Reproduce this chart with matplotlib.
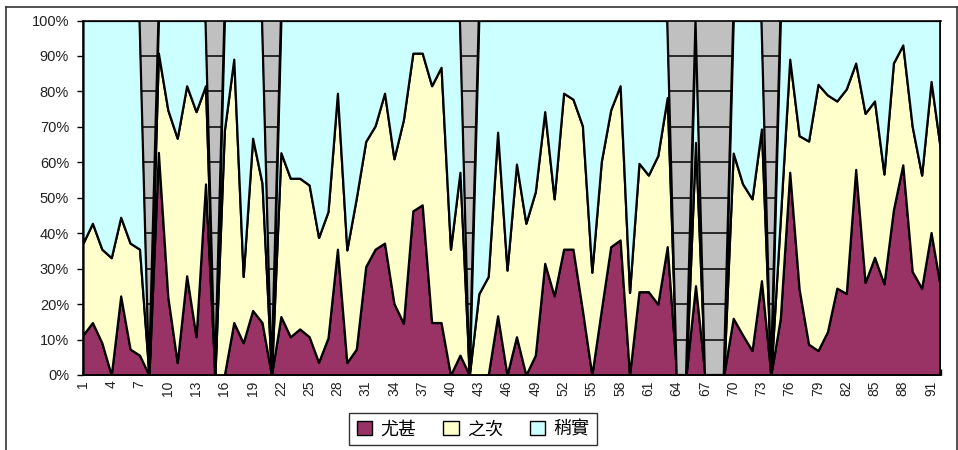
import matplotlib
matplotlib.use("Agg")
import matplotlib.pyplot as plt
from matplotlib.lines import Line2D
from matplotlib.patches import Patch
from matplotlib.ticker import FixedLocator, FuncFormatter
import numpy as np

# series values in percent, one entry per category 1..92 (all zero = no data)
you = [11.3, 14.8, 9.1, 0, 22.3, 7.3, 5.6, 0, 62.8, 22.1,
       3.5, 28.0, 10.8, 53.9, 0, 0, 14.8, 9.1, 18.2, 14.8,
       0, 16.5, 10.8, 13.0, 10.8, 3.6, 10.5, 35.5, 3.5, 7.3,
       30.6, 35.5, 37.2, 20.2, 14.6, 46.3, 48.0, 14.8, 14.8, 0,
       5.6, 0, 0, 0, 16.7, 0, 10.8, 0, 5.6, 31.5,
       22.3, 35.5, 35.5, 18.3, 0, 18.3, 36.2, 38.1, 0, 23.5,
       23.5, 20.0, 36.2, 0, 0, 25.2, 0, 0, 0, 16.0,
       11.3, 6.9, 26.6, 0, 16.0, 57.2, 24.2, 8.7, 6.9, 12.2,
       24.5, 23.0, 58.0, 26.1, 33.2, 25.7, 46.6, 59.3, 29.2, 24.5,
       40.2, 24.7]

zhi = [25.9, 28.0, 26.4, 33.1, 22.2, 29.9, 29.9, 0, 28.0, 52.7,
       63.3, 53.6, 63.5, 27.7, 0, 69.0, 74.3, 18.7, 48.6, 39.3,
       0, 46.2, 44.7, 42.5, 42.8, 35.2, 35.6, 44.0, 31.8, 42.6,
       35.3, 34.8, 42.3, 40.8, 57.4, 44.5, 42.8, 66.8, 72.0, 35.5,
       51.6, 0, 22.9, 27.8, 51.8, 29.6, 48.7, 42.8, 46.1, 42.8,
       27.4, 44.0, 42.3, 52.0, 29.0, 41.9, 38.6, 43.5, 23.3, 36.2,
       32.9, 41.9, 42.1, 0, 0, 40.4, 0, 0, 0, 46.6,
       42.6, 42.8, 42.8, 0, 28.0, 31.9, 43.3, 57.3, 75.1, 66.8,
       52.8, 57.7, 30.0, 47.7, 44.1, 31.0, 41.4, 33.8, 40.9, 31.9,
       42.6, 38.8]

shao = [62.8, 57.2, 64.5, 66.9, 55.5, 62.8, 64.5, 0, 9.2, 25.2,
        33.2, 18.4, 25.7, 18.4, 0, 31.0, 10.9, 72.2, 33.2, 45.9,
        0, 37.3, 44.5, 44.5, 46.4, 61.2, 53.9, 20.5, 64.7, 50.1,
        34.1, 29.7, 20.5, 39.0, 28.0, 9.2, 9.2, 18.4, 13.2, 64.5,
        42.8, 0, 77.1, 72.2, 31.5, 70.4, 40.5, 57.2, 48.3, 25.7,
        50.3, 20.5, 22.2, 29.7, 71.0, 39.8, 25.2, 18.4, 76.7, 40.3,
        43.6, 38.1, 21.7, 0, 0, 34.4, 0, 0, 0, 37.4,
        46.1, 50.3, 30.6, 0, 56.0, 10.9, 32.5, 34.0, 18.0, 21.0,
        22.7, 19.3, 12.0, 26.2, 22.7, 43.3, 12.0, 6.9, 29.9, 43.6,
        17.2, 36.5]

series_names = ["尤甚", "之次", "稍實"]
series_colors = ["#993366", "#ffffcc", "#ccffff"]
y_ticks = [0, 10, 20, 30, 40, 50, 60, 70, 80, 90, 100]

x = np.arange(1, len(you) + 1)
top = np.array(you) + np.array(zhi) + np.array(shao)

fig = plt.figure(figsize=(9.58, 4.5), dpi=100)
ax = fig.add_axes([83 / 958, 1 - 375 / 450, (940.5 - 83) / 958, (375 - 20.5) / 450])
ax.set_facecolor("#c0c0c0")

ax.stackplot(x, you, zhi, shao, colors=series_colors, edgecolor="black", lw=1.6, zorder=2)

# gray gaps where a category has no data, gridlines drawn only inside them
gap = ax.fill_between(x, top, 100, facecolor="#c0c0c0", edgecolor="none", lw=0, zorder=2.5)
gap_path = gap.get_paths()[0]
for yv in y_ticks[1:-1]:
    gl = ax.axhline(yv, color="black", lw=1.1, zorder=3)
    gl.set_clip_path(gap_path, ax.transData)

# redraw outline of the top series over the gaps
ax.plot(x, top, color="black", lw=1.6, zorder=3.5)

ax.set_xlim(1, len(you))
ax.set_ylim(0, 100)

ax.yaxis.set_major_locator(FixedLocator(y_ticks))
ax.yaxis.set_major_formatter(FuncFormatter(lambda v, p: "%d%%" % v))
ax.xaxis.set_major_locator(FixedLocator(list(range(1, len(you) + 1, 3))))
ax.xaxis.set_minor_locator(FixedLocator(list(x)))

tick_font = ["Liberation Sans", "DejaVu Sans"]
for lab in ax.get_yticklabels():
    lab.set_family(tick_font)
    lab.set_fontsize(10.5)
    lab.set_color("#222222")
for lab in ax.get_xticklabels():
    lab.set_family(tick_font)
    lab.set_fontsize(10)
    lab.set_rotation(90)
    lab.set_color("#222222")

ax.tick_params(axis="y", direction="out", length=4, width=1, pad=6)
ax.tick_params(axis="x", which="both", direction="in", length=4, width=1, pad=4)

for sp in ax.spines.values():
    sp.set_color("black")
    sp.set_linewidth(1.2)
    sp.set_zorder(4)

# legend below the plot
handles = [Patch(facecolor=c, edgecolor="black", lw=1) for c in series_colors]
leg = fig.legend(handles, series_names, loc="upper center", ncol=3,
                 bbox_to_anchor=(473 / 958, 1 - 413 / 450), borderaxespad=0,
                 prop={"family": ["Noto Sans CJK TC", "DejaVu Sans"], "size": 13},
                 frameon=True, fancybox=False, edgecolor="black",
                 handlelength=0.85, handleheight=0.85, handletextpad=0.45,
                 columnspacing=1.5, borderpad=0.4)
leg.get_frame().set_linewidth(1)

# chart area border
fig.add_artist(Line2D([5.5 / 958, 5.5 / 958], [0, 1 - 6.5 / 450], color="#333333", lw=1.2))
fig.add_artist(Line2D([5.5 / 958, 956.5 / 958], [1 - 6.5 / 450, 1 - 6.5 / 450], color="#333333", lw=1.2))
fig.add_artist(Line2D([956.5 / 958, 956.5 / 958], [0, 1 - 6.5 / 450], color="#333333", lw=1.2))

fig.savefig("out.png", dpi=100)
